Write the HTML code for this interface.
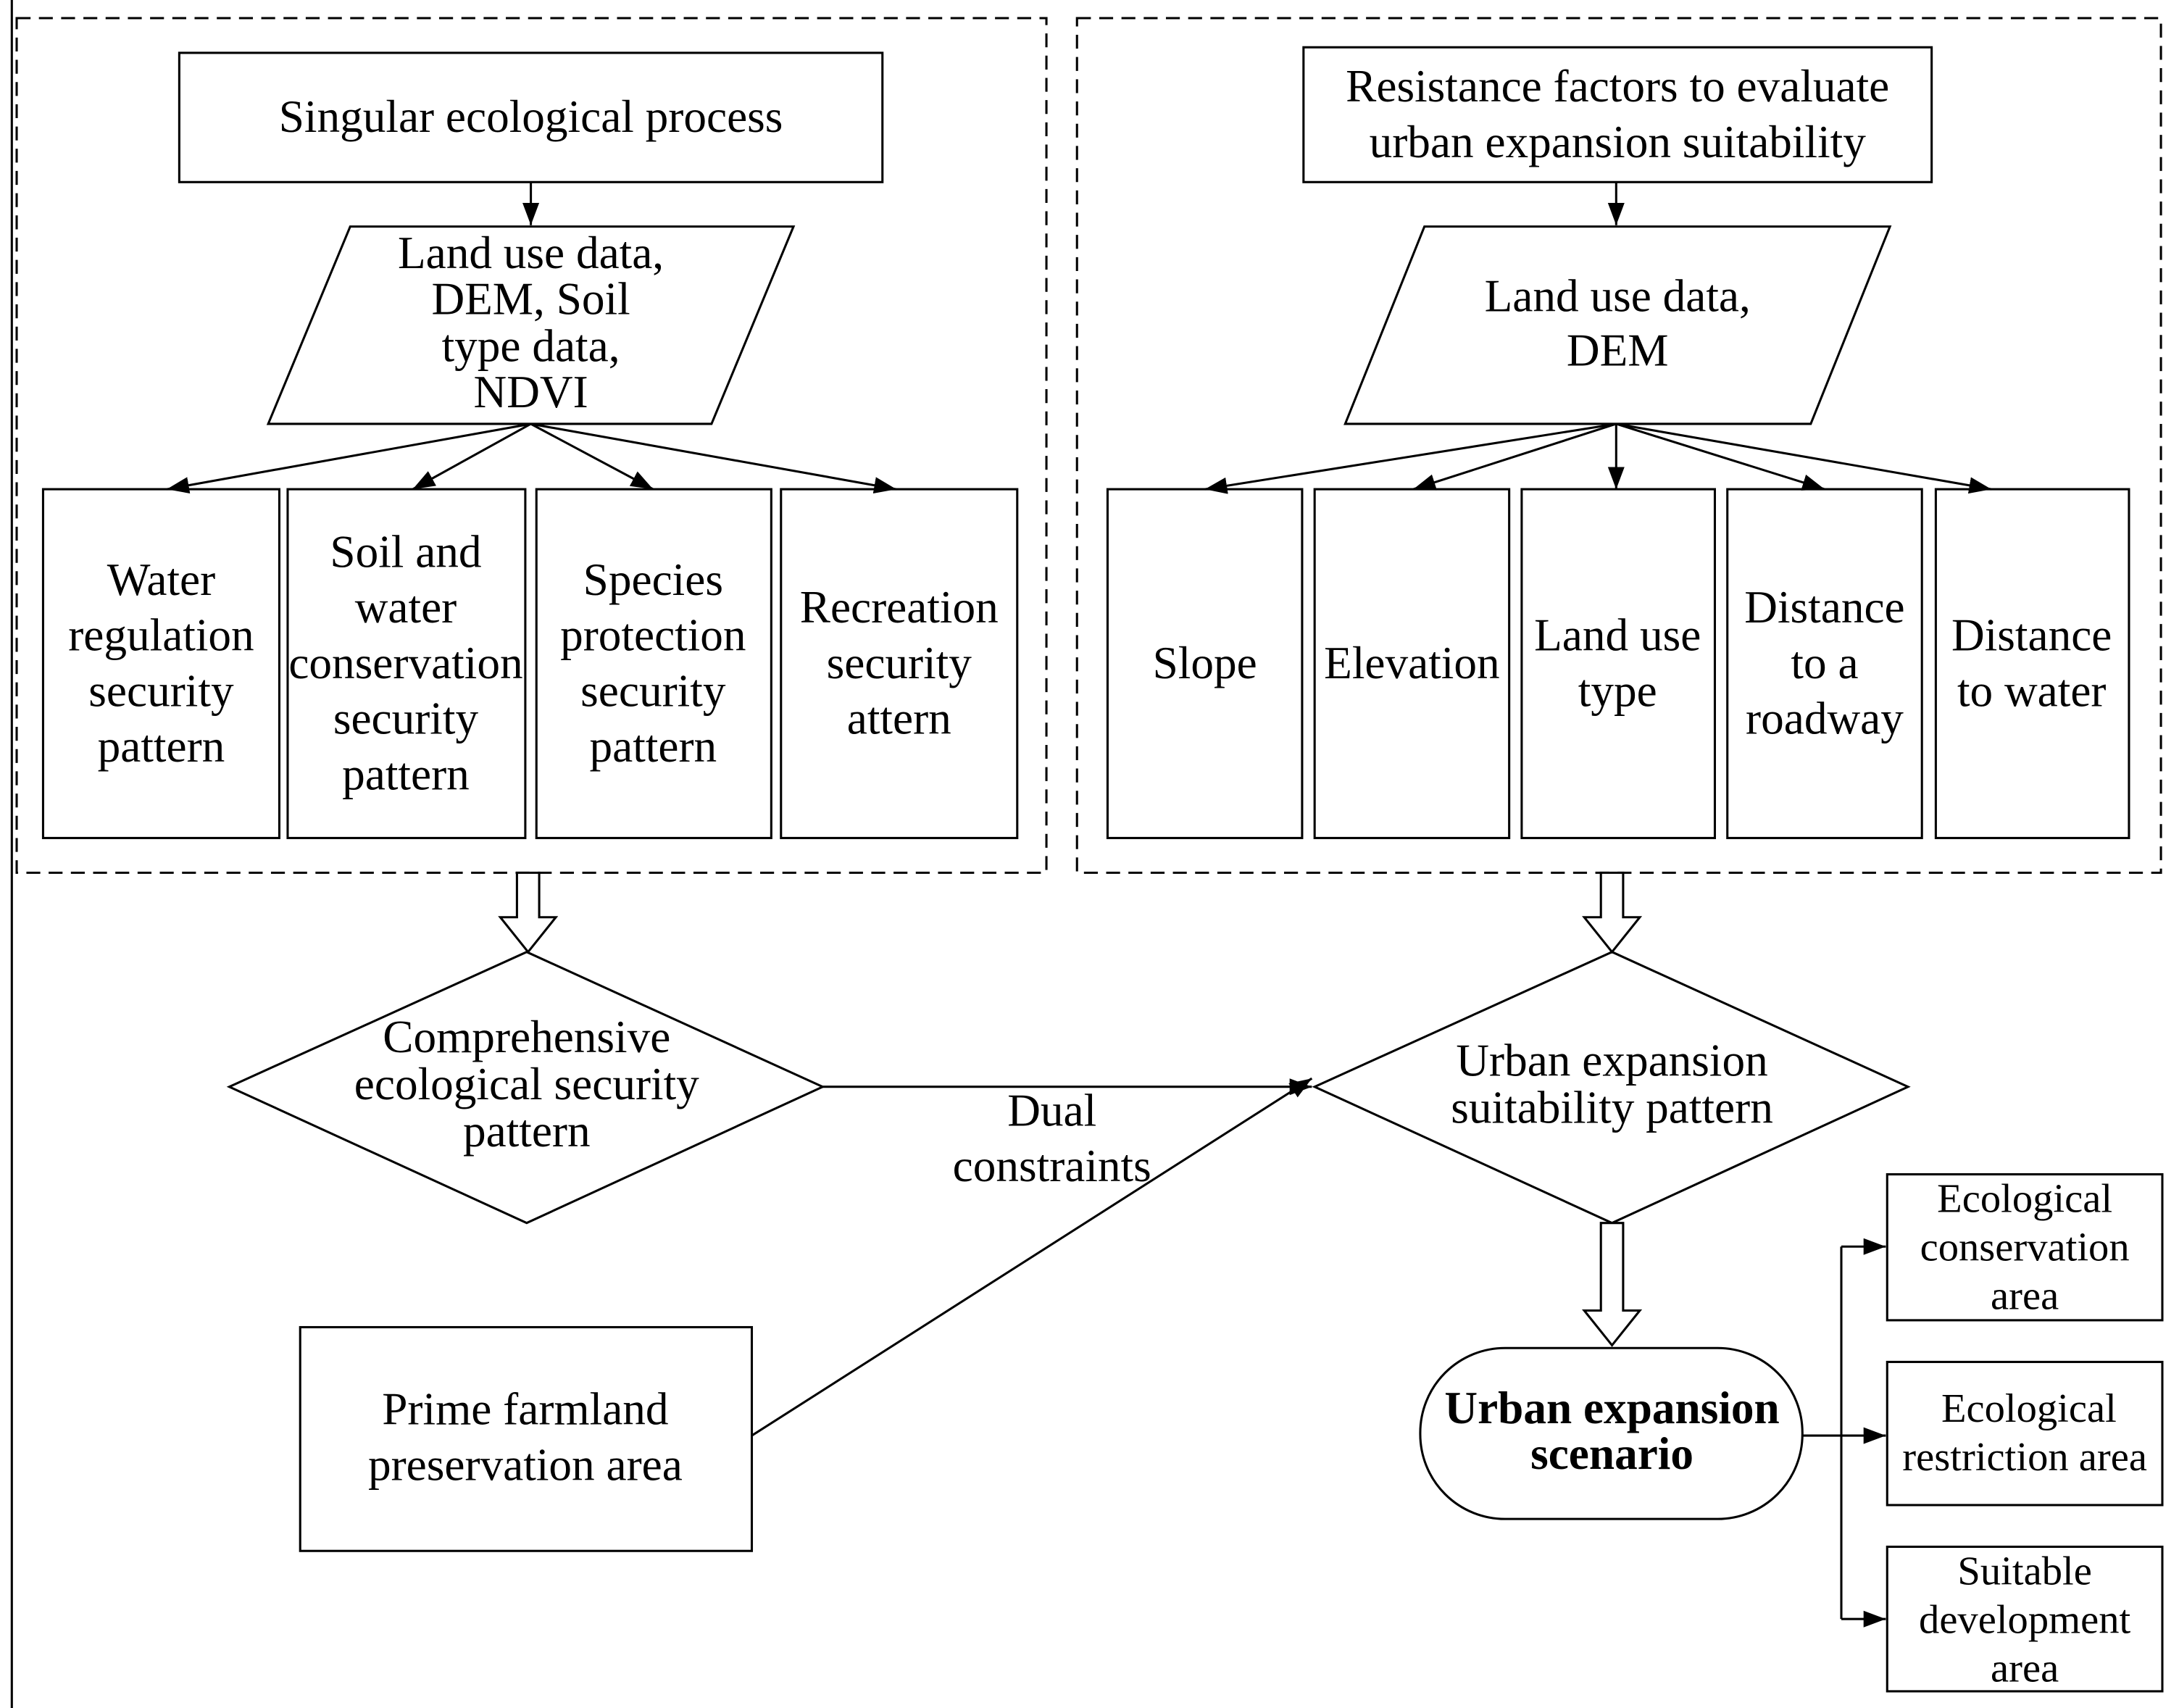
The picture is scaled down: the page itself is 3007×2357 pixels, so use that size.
<!DOCTYPE html>
<html><head><style>html,body{margin:0;padding:0;background:#fff}svg{display:block}</style></head>
<body>
<svg width="3007" height="2357" viewBox="0 0 1568 1229" xmlns="http://www.w3.org/2000/svg" font-family="'Liberation Serif', serif" font-size="33" text-anchor="middle" fill="none" stroke="#000" stroke-width="1.6">
<defs><marker id="a" markerWidth="18" markerHeight="14" refX="16" refY="6" orient="auto" markerUnits="userSpaceOnUse"><path d="M0,0 L16,6 L0,12 z" fill="#000" stroke="none"/></marker></defs>
<line x1="8.5" y1="0" x2="8.5" y2="1229"/>
<rect x="12" y="13" width="741" height="615" stroke-dasharray="10,6"/>
<rect x="775" y="13" width="780" height="615" stroke-dasharray="10,6"/>
<rect x="129" y="38" width="506" height="93"/>
<line x1="382" y1="131" x2="382" y2="162" marker-end="url(#a)"/>
<polygon points="252,163 571,163 512,305 193,305"/>
<line x1="382" y1="305" x2="120" y2="352" marker-end="url(#a)"/>
<line x1="382" y1="305" x2="297" y2="352" marker-end="url(#a)"/>
<line x1="382" y1="305" x2="470" y2="352" marker-end="url(#a)"/>
<line x1="382" y1="305" x2="645" y2="352" marker-end="url(#a)"/>
<rect x="31" y="352" width="170" height="251"/><rect x="207" y="352" width="171" height="251"/><rect x="386" y="352" width="169" height="251"/><rect x="562" y="352" width="170" height="251"/>
<rect x="938" y="34" width="452" height="97"/>
<line x1="1163" y1="131" x2="1163" y2="162" marker-end="url(#a)"/>
<polygon points="1025,163 1360,163 1303,305 968,305"/>
<line x1="1163" y1="305" x2="867" y2="352" marker-end="url(#a)"/>
<line x1="1163" y1="305" x2="1017" y2="352" marker-end="url(#a)"/>
<line x1="1163" y1="305" x2="1163" y2="352" marker-end="url(#a)"/>
<line x1="1163" y1="305" x2="1313" y2="352" marker-end="url(#a)"/>
<line x1="1163" y1="305" x2="1433" y2="352" marker-end="url(#a)"/>
<rect x="797" y="352" width="140" height="251"/><rect x="946" y="352" width="140" height="251"/><rect x="1095" y="352" width="139" height="251"/><rect x="1243" y="352" width="140" height="251"/><rect x="1393" y="352" width="139" height="251"/>
<polygon points="372,628 388,628 388,660 400,660 380,685 360,660 372,660" fill="#fff"/>
<polygon points="1152,628 1168,628 1168,660 1180,660 1160,685 1140,660 1152,660" fill="#fff"/>
<polygon points="379,685 592,782 379,880 165,782"/>
<polygon points="1160,685 1373,782 1160,880 946,782"/>
<line x1="592" y1="782" x2="944" y2="782" marker-end="url(#a)"/>
<line x1="541" y1="1033" x2="944" y2="776" marker-end="url(#a)"/>
<rect x="216" y="955" width="325" height="161"/>
<polygon points="1152,880 1168,880 1168,943 1180,943 1160,968 1140,943 1152,943" fill="#fff"/>
<rect x="1022" y="970" width="275" height="123" rx="61"/>
<line x1="1297" y1="1033" x2="1325" y2="1033"/>
<line x1="1325" y1="897" x2="1325" y2="1165"/>
<line x1="1325" y1="897" x2="1357" y2="897" marker-end="url(#a)"/>
<line x1="1325" y1="1033" x2="1357" y2="1033" marker-end="url(#a)"/>
<line x1="1325" y1="1165" x2="1357" y2="1165" marker-end="url(#a)"/>
<rect x="1358" y="845" width="198" height="105"/><rect x="1358" y="980" width="198" height="103"/><rect x="1358" y="1113" width="198" height="104"/>
<g fill="#000" stroke="none">
<text x="382" y="95">Singular ecological process</text>
<text x="382" y="193">Land use data,</text><text x="382" y="226">DEM, Soil</text><text x="382" y="260">type data,</text><text x="382" y="293">NDVI</text>
<text x="116" y="428">Water</text><text x="116" y="468">regulation</text><text x="116" y="508">security</text><text x="116" y="548">pattern</text>
<text x="292" y="408">Soil and</text><text x="292" y="448">water</text><text x="292" y="488">conservation</text><text x="292" y="528">security</text><text x="292" y="568">pattern</text>
<text x="470" y="428">Species</text><text x="470" y="468">protection</text><text x="470" y="508">security</text><text x="470" y="548">pattern</text>
<text x="647" y="448">Recreation</text><text x="647" y="488">security</text><text x="647" y="528">attern</text>
<text x="1164" y="73">Resistance factors to evaluate</text><text x="1164" y="113">urban expansion suitability</text>
<text x="1164" y="224">Land use data,</text><text x="1164" y="263">DEM</text>
<text x="867" y="488">Slope</text>
<text x="1016" y="488">Elevation</text>
<text x="1164" y="468">Land use</text><text x="1164" y="508">type</text>
<text x="1313" y="448">Distance</text><text x="1313" y="488">to a</text><text x="1313" y="528">roadway</text>
<text x="1462" y="468">Distance</text><text x="1462" y="508">to water</text>
<text x="379" y="757">Comprehensive</text><text x="379" y="791">ecological security</text><text x="379" y="825">pattern</text>
<text x="1160" y="774">Urban expansion</text><text x="1160" y="808">suitability pattern</text>
<text x="757" y="810">Dual</text><text x="757" y="850">constraints</text>
<text x="378" y="1025">Prime farmland</text><text x="378" y="1065">preservation area</text>
<text x="1160" y="1024" font-weight="bold">Urban expansion</text><text x="1160" y="1057" font-weight="bold">scenario</text>
<g font-size="29.5"><text x="1457" y="872">Ecological</text><text x="1457" y="907">conservation</text><text x="1457" y="942">area</text>
<text x="1460" y="1023">Ecological</text><text x="1457" y="1058">restriction area</text>
<text x="1457" y="1140">Suitable</text><text x="1457" y="1175">development</text><text x="1457" y="1210">area</text></g>
</g>
</svg>
</body></html>
